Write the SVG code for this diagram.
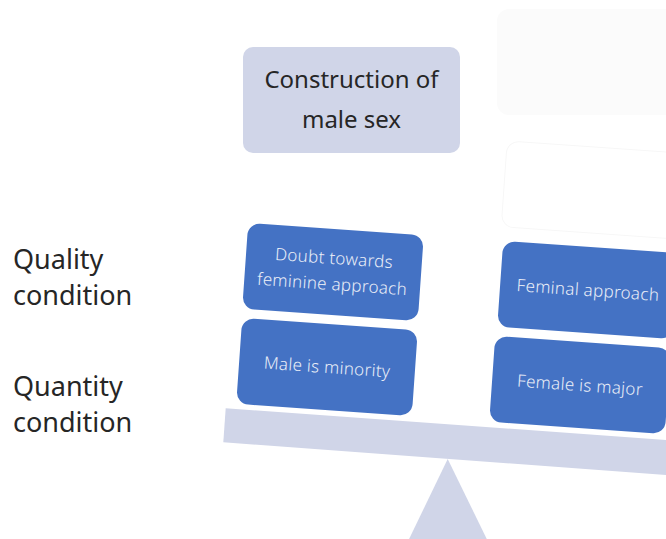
<svg xmlns="http://www.w3.org/2000/svg" width="666" height="539" viewBox="0 0 666 539">
  <style>
    .label { font-family: "Noto Sans", "Liberation Sans", sans-serif; font-size: 27px; fill: #262626; }
    .title { font-family: "Noto Sans", "Liberation Sans", sans-serif; font-size: 24px; fill: #262626; text-anchor: middle; }
    .box { fill: #4472c4; }
    .box-text { font-family: "Noto Sans", "Liberation Sans", sans-serif; font-size: 17px; font-weight: 300; fill: #e9edf7; text-anchor: middle; letter-spacing: 0.3px; }
    .scale { fill: #d0d5e8; }
  </style>
  <defs>
    <rect id="weight" x="-88" y="-43" width="176" height="86" rx="12" ry="12"/>
  </defs>

  <rect width="666" height="539" fill="#ffffff"/>

  <!-- faint placeholder shapes -->
  <rect x="497" y="9" width="190" height="106" rx="12" fill="#fbfbfb"/>
  <rect x="-88" y="-43" width="176" height="86" rx="12" fill="none" stroke="#f7f7f7" stroke-width="1" transform="translate(592 190) rotate(4)"/>

  <!-- title -->
  <g id="title">
    <rect x="243" y="47" width="217" height="106" rx="10" class="scale"/>
    <text class="title" x="351.5" y="88">Construction of</text>
    <text class="title" x="351.5" y="128">male sex</text>
  </g>

  <!-- row labels -->
  <g id="quality-label">
    <text class="label" x="13" y="269">Quality</text>
    <text class="label" x="13" y="305">condition</text>
  </g>
  <g id="quantity-label">
    <text class="label" x="13" y="396">Quantity</text>
    <text class="label" x="13" y="432">condition</text>
  </g>

  <!-- balance: fulcrum and beam -->
  <g id="balance">
    <polygon class="scale" points="447.7,459 398,562 498,562"/>
    <polygon class="scale" points="225.7,408.3 680,441 680,476 223.3,442.3"/>
  </g>

  <!-- weights on the left pan -->
  <g id="doubt-feminine" transform="translate(333 272) rotate(4)">
    <use href="#weight" class="box"/>
    <text class="box-text" y="-8">Doubt towards</text>
    <text class="box-text" y="18">feminine approach</text>
  </g>
  <g id="male-minority" transform="translate(327 367) rotate(4)">
    <use href="#weight" class="box"/>
    <text class="box-text" y="6">Male is minority</text>
  </g>

  <!-- weights on the right pan -->
  <g id="feminal-approach" transform="translate(588 290) rotate(4)">
    <use href="#weight" class="box"/>
    <text class="box-text" y="6">Feminal approach</text>
  </g>
  <g id="female-major" transform="translate(580 385) rotate(4)">
    <use href="#weight" class="box"/>
    <text class="box-text" y="6">Female is major</text>
  </g>
</svg>
